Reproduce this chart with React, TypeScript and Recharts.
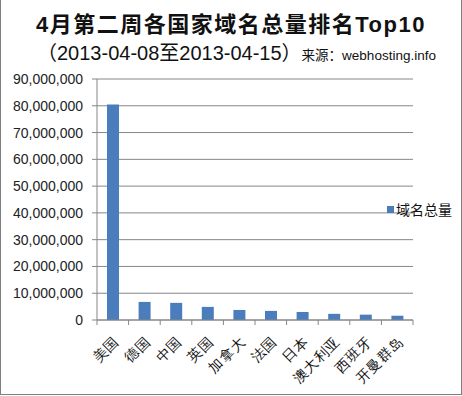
import { BarChart, Bar, XAxis, YAxis, CartesianGrid } from "recharts";

// 国家（类别）
const countries = ["美国", "德国", "中国", "英国", "加拿大", "法国", "日本", "澳大利亚", "西班牙", "开曼群岛"];
// 域名总量
const totals = [80500000, 6750000, 6400000, 4900000, 3750000, 3400000, 3000000, 2300000, 2000000, 1600000];
const yTicks = [0, 10000000, 20000000, 30000000, 40000000, 50000000, 60000000, 70000000, 80000000, 90000000];
const seriesName = "域名总量";

const data = countries.map((c, i) => ({ name: c, total: totals[i] }));

const W = 462;
const H = 396;
const PLOT_LEFT = 97;
const PLOT_RIGHT = 49;
const BAR_COLOR = "#4a7dbb";
const LINE_COLOR = "#868686";
const band = (W - PLOT_LEFT - PLOT_RIGHT) / countries.length;

function XTick(props: any) {
  const { x, y, payload, index } = props;
  const tx = x + 7;
  const ty = y + 22;
  return (
    <g>
      <line x1={x - band / 2} y1={y} x2={x - band / 2} y2={y + 5} stroke={LINE_COLOR} />
      {index === countries.length - 1 && (
        <line x1={x + band / 2} y1={y} x2={x + band / 2} y2={y + 5} stroke={LINE_COLOR} />
      )}
      <text x={tx} y={ty} textAnchor="end" fontSize={14} fill="#111" letterSpacing={1}
            fontFamily="serif" transform={`rotate(-45, ${tx}, ${ty})`}>
        {payload.value}
      </text>
    </g>
  );
}

export default function App() {
  return (
    <div style={{ position: "absolute", left: 0, top: 0, width: W, height: H, background: "#fff" }}>
      <div style={{ position: "absolute", left: 0, top: 0, width: W - 2, height: H - 2,
                    borderLeft: "1px solid #808080", borderRight: "1px solid #808080",
                    borderBottom: "1px solid #808080" }} />
      <div style={{ position: "absolute", left: 0, top: 6, width: W, textAlign: "center",
                    fontFamily: "'Liberation Sans', 'Noto Sans CJK SC', sans-serif",
                    fontWeight: "bold", fontSize: 22, letterSpacing: 1.5, color: "#111" }}>
        4月第二周各国家域名总量排名Top10
      </div>
      <div style={{ position: "absolute", left: 37, top: 37, whiteSpace: "nowrap", color: "#111",
                    fontFamily: "'Liberation Sans', 'Noto Sans CJK SC', sans-serif" }}>
        <span style={{ fontSize: 20 }}>（2013-04-08至2013-04-15）</span>
        <span style={{ fontSize: 13.5 }}>来源：webhosting.info</span>
      </div>
      <div style={{ position: "absolute", left: 0, top: 0 }}>
        <BarChart width={W} height={H} data={data}
                  margin={{ top: 79, right: PLOT_RIGHT, left: 0, bottom: 0 }}>
          <CartesianGrid vertical={false} stroke={LINE_COLOR} />
          <XAxis dataKey="name" height={76} interval={0} tickSize={0} tickMargin={0}
                 axisLine={{ stroke: LINE_COLOR }} tickLine={false} tick={<XTick />} />
          <YAxis width={PLOT_LEFT} domain={[0, 90000000]} ticks={yTicks} interval={0}
                 tickSize={5} tickMargin={9}
                 axisLine={{ stroke: LINE_COLOR }} tickLine={{ stroke: LINE_COLOR }}
                 tick={{ fontSize: 14, fill: "#222", fontFamily: "'Liberation Sans', Arial, sans-serif" }}
                 tickFormatter={(v: number) => v.toLocaleString("en-US")} />
          <Bar dataKey="total" name={seriesName} fill={BAR_COLOR} barSize={12}
               isAnimationActive={false} />
        </BarChart>
      </div>
      <div style={{ position: "absolute", left: 387, top: 199, display: "flex", alignItems: "center",
                    fontSize: 14, color: "#111", fontFamily: "'Noto Sans CJK SC', sans-serif",
                    whiteSpace: "nowrap" }}>
        <span style={{ width: 7, height: 7, background: BAR_COLOR, marginRight: 2, display: "inline-block" }} />
        {seriesName}
      </div>
    </div>
  );
}
